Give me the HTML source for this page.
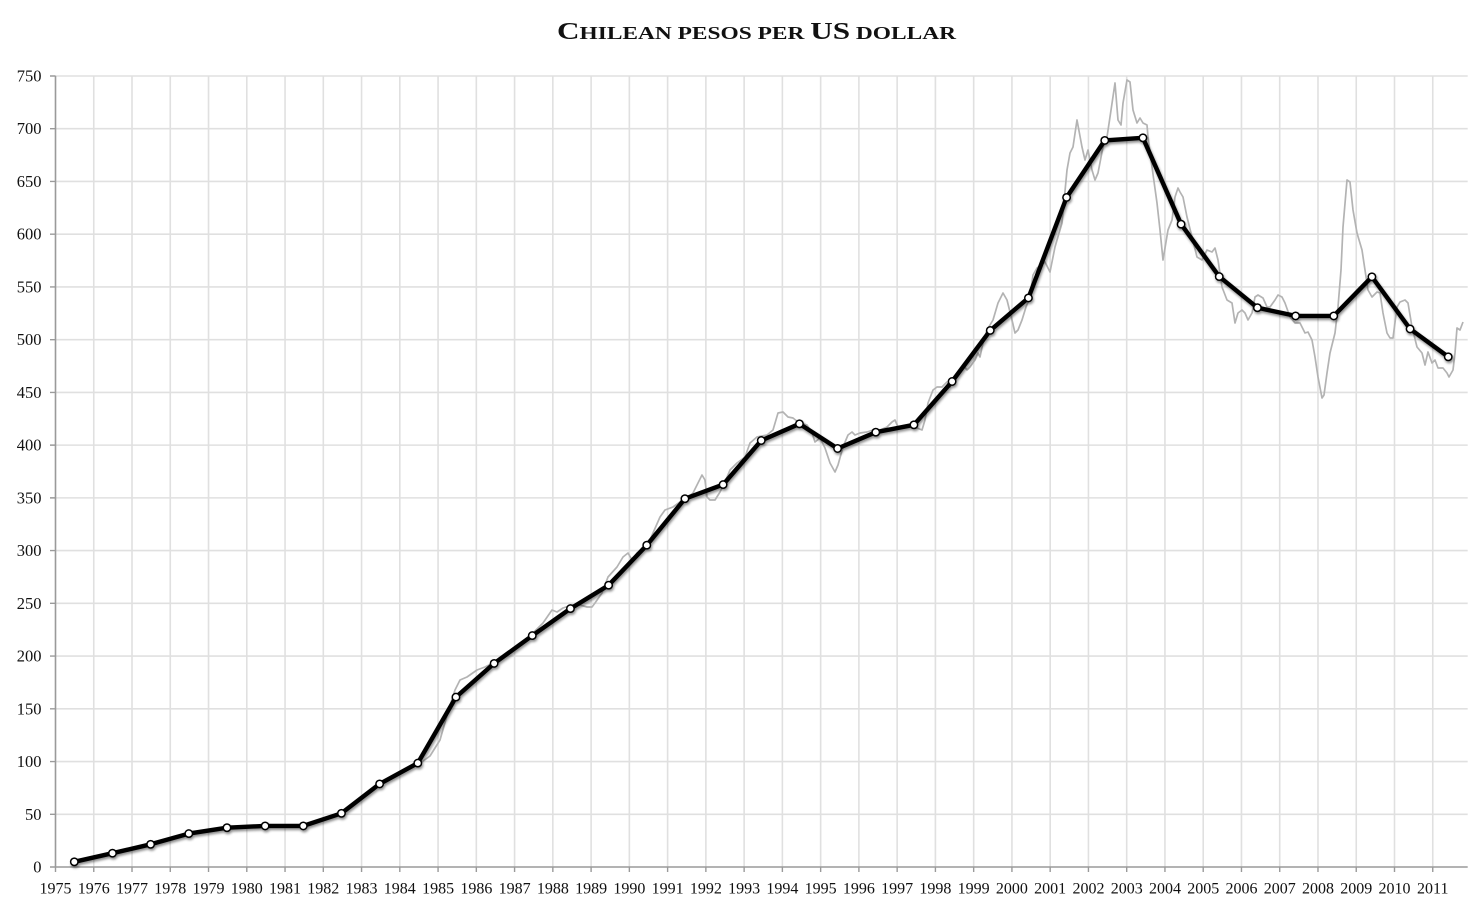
<!DOCTYPE html>
<html>
<head>
<meta charset="utf-8">
<style>
html,body{margin:0;padding:0;background:#fff;}
svg{display:block;}
text{font-family:"Liberation Serif","Times New Roman",serif;fill:#111;}
</style>
</head>
<body>
<svg width="1484" height="917" viewBox="0 0 1484 917" xmlns="http://www.w3.org/2000/svg">
<defs>
<filter id="sh" x="-5%" y="-5%" width="110%" height="110%">
<feDropShadow dx="1" dy="2" stdDeviation="1.3" flood-color="#000" flood-opacity="0.45"/>
</filter>
</defs>
<rect width="1484" height="917" fill="#fff"/>

<!-- Title -->
<text x="756.5" y="39" text-anchor="middle" font-weight="bold" textLength="399" lengthAdjust="spacingAndGlyphs"><tspan font-size="24">C</tspan><tspan font-size="18">HILEAN PESOS PER </tspan><tspan font-size="24">US</tspan><tspan font-size="18"> DOLLAR</tspan></text>

<!-- horizontal gridlines -->
<path stroke="#e0e0e0" stroke-width="1.6" fill="none" d="
M55.5 814.27H1467.7 M55.5 761.53H1467.7 M55.5 708.8H1467.7 M55.5 656.07H1467.7 M55.5 603.33H1467.7
M55.5 550.6H1467.7 M55.5 497.87H1467.7 M55.5 445.13H1467.7 M55.5 392.4H1467.7 M55.5 339.67H1467.7
M55.5 286.93H1467.7 M55.5 234.2H1467.7 M55.5 181.47H1467.7 M55.5 128.73H1467.7 M55.5 76H1467.7"/>
<!-- vertical gridlines -->
<path stroke="#e0e0e0" stroke-width="1.6" fill="none" d="
M93.76 76V867 M132.01 76V867 M170.27 76V867 M208.53 76V867 M246.79 76V867 M285.04 76V867
M323.3 76V867 M361.56 76V867 M399.81 76V867 M438.07 76V867 M476.33 76V867 M514.58 76V867
M552.84 76V867 M591.1 76V867 M629.36 76V867 M667.61 76V867 M705.87 76V867 M744.13 76V867
M782.38 76V867 M820.64 76V867 M858.9 76V867 M897.15 76V867 M935.41 76V867 M973.67 76V867
M1011.93 76V867 M1050.18 76V867 M1088.44 76V867 M1126.7 76V867 M1164.95 76V867 M1203.21 76V867
M1241.47 76V867 M1279.72 76V867 M1317.98 76V867 M1356.24 76V867 M1394.5 76V867 M1432.75 76V867"/>

<!-- axes -->
<path stroke="#9a9a9a" stroke-width="1.6" fill="none" d="M55.5 76V867.5 M55 867H1467.7"/>
<!-- y ticks -->
<path stroke="#9a9a9a" stroke-width="1.4" fill="none" d="
M50 867H55.5 M50 814.27H55.5 M50 761.53H55.5 M50 708.8H55.5 M50 656.07H55.5 M50 603.33H55.5
M50 550.6H55.5 M50 497.87H55.5 M50 445.13H55.5 M50 392.4H55.5 M50 339.67H55.5
M50 286.93H55.5 M50 234.2H55.5 M50 181.47H55.5 M50 128.73H55.5 M50 76H55.5"/>
<!-- x ticks -->
<path stroke="#9a9a9a" stroke-width="1.4" fill="none" d="
M55.5 867V872 M93.76 867V872 M132.01 867V872 M170.27 867V872 M208.53 867V872 M246.79 867V872 M285.04 867V872
M323.3 867V872 M361.56 867V872 M399.81 867V872 M438.07 867V872 M476.33 867V872 M514.58 867V872
M552.84 867V872 M591.1 867V872 M629.36 867V872 M667.61 867V872 M705.87 867V872 M744.13 867V872
M782.38 867V872 M820.64 867V872 M858.9 867V872 M897.15 867V872 M935.41 867V872 M973.67 867V872
M1011.93 867V872 M1050.18 867V872 M1088.44 867V872 M1126.7 867V872 M1164.95 867V872 M1203.21 867V872
M1241.47 867V872 M1279.72 867V872 M1317.98 867V872 M1356.24 867V872 M1394.5 867V872 M1432.75 867V872"/>

<!-- y labels -->
<g font-size="16.5" text-anchor="end">
<text x="41.5" y="872.5">0</text>
<text x="41.5" y="819.8">50</text>
<text x="41.5" y="767">100</text>
<text x="41.5" y="714.3">150</text>
<text x="41.5" y="661.6">200</text>
<text x="41.5" y="608.8">250</text>
<text x="41.5" y="556.1">300</text>
<text x="41.5" y="503.4">350</text>
<text x="41.5" y="450.6">400</text>
<text x="41.5" y="397.9">450</text>
<text x="41.5" y="345.2">500</text>
<text x="41.5" y="292.4">550</text>
<text x="41.5" y="239.7">600</text>
<text x="41.5" y="187">650</text>
<text x="41.5" y="134.2">700</text>
<text x="41.5" y="81.5">750</text>
</g>

<!-- x labels -->
<g font-size="16" text-anchor="middle">
<text x="55.5" y="893.5">1975</text>
<text x="93.76" y="893.5">1976</text>
<text x="132.01" y="893.5">1977</text>
<text x="170.27" y="893.5">1978</text>
<text x="208.53" y="893.5">1979</text>
<text x="246.79" y="893.5">1980</text>
<text x="285.04" y="893.5">1981</text>
<text x="323.3" y="893.5">1982</text>
<text x="361.56" y="893.5">1983</text>
<text x="399.81" y="893.5">1984</text>
<text x="438.07" y="893.5">1985</text>
<text x="476.33" y="893.5">1986</text>
<text x="514.58" y="893.5">1987</text>
<text x="552.84" y="893.5">1988</text>
<text x="591.1" y="893.5">1989</text>
<text x="629.36" y="893.5">1990</text>
<text x="667.61" y="893.5">1991</text>
<text x="705.87" y="893.5">1992</text>
<text x="744.13" y="893.5">1993</text>
<text x="782.38" y="893.5">1994</text>
<text x="820.64" y="893.5">1995</text>
<text x="858.9" y="893.5">1996</text>
<text x="897.15" y="893.5">1997</text>
<text x="935.41" y="893.5">1998</text>
<text x="973.67" y="893.5">1999</text>
<text x="1011.93" y="893.5">2000</text>
<text x="1050.18" y="893.5">2001</text>
<text x="1088.44" y="893.5">2002</text>
<text x="1126.7" y="893.5">2003</text>
<text x="1164.95" y="893.5">2004</text>
<text x="1203.21" y="893.5">2005</text>
<text x="1241.47" y="893.5">2006</text>
<text x="1279.72" y="893.5">2007</text>
<text x="1317.98" y="893.5">2008</text>
<text x="1356.24" y="893.5">2009</text>
<text x="1394.5" y="893.5">2010</text>
<text x="1432.75" y="893.5">2011</text>
</g>

<!-- monthly grey series -->
<polyline fill="none" stroke="#b3b3b3" stroke-width="1.7" stroke-linejoin="round" points="
74.3,861.8 112.5,853.2 150.6,844.3 188.8,833.6 227,827.7 265.1,825.9 303.3,825.9 341.5,813.3 379.6,783.9 410,768 417.8,765
430,756 440,740 448,712 455,690 460,680 467,677 477,670 485,667 493,663 505,655 518,645 530,636 543,623
552,610 557,612 563,608 572,605 580,605 587,607 592,607 595,603 602,593 608,577 617,567 623,557 628,553
632,560 637,553 647,547 653,533 660,517 665,510 673,507 680,502 687,498 693,493 698,483 702,475 705,480
707,497 710,500 715,500 720,492 725,482 730,470 737,463 745,457 750,443 757,437 767,435 773,430 778,413
783,412 788,417 793,418 798,422 807,425 812,433 815,442 820,438 825,448 830,463 835,472 838,465 843,447
848,435 852,432 855,435 860,433 867,432 873,430 880,430 887,427 892,422 895,420 898,427 903,427 910,425
917,428 922,430 925,420 928,403 933,390 937,387 942,387 947,382 950,387 955,377 960,373 963,365 967,370
970,367 975,360 978,353 980,357 983,343 987,330 993,320 998,303 1003,293 1007,300 1012,320 1015,333
1018,330 1022,320 1026,307 1030,297 1033,275 1037,268 1045,262 1050,272 1055,247 1062,223 1067,170
1070,153 1073,147 1077,120 1082,147 1085,160 1088,150 1092,170 1095,180 1098,173 1103,147 1107,137
1110,117 1115,83 1118,120 1121,125 1123,103 1127,80 1130,82 1133,110 1137,123 1140,118 1143,123 1147,125
1148,137 1152,167 1157,203 1160,230 1163,260 1168,230 1172,220 1175,197 1178,188 1180,192 1183,197
1187,217 1192,237 1197,257 1202,260 1207,250 1212,252 1215,248 1218,260 1222,287 1227,300 1232,303
1235,323 1238,313 1242,310 1245,313 1248,320 1252,313 1255,297 1258,295 1263,298 1267,307 1270,307
1275,300 1278,295 1282,297 1285,303 1290,317 1295,323 1300,323 1305,333 1308,332 1312,340 1315,357
1318,377 1322,398 1324,395 1327,373 1330,353 1335,333 1338,307 1341,270 1343,227 1347,180 1350,182
1353,210 1357,233 1362,250 1365,270 1368,290 1372,297 1377,292 1380,293 1383,313 1387,333 1390,338
1393,338 1397,307 1400,302 1405,300 1408,303 1412,327 1417,347 1422,353 1425,365 1428,352 1432,363
1435,360 1438,368 1443,368 1447,373 1449,377 1453,370 1455,353 1457,328 1460,330 1463,322"/>

<!-- annual black series -->
<g filter="url(#sh)">
<polyline fill="none" stroke="#000" stroke-width="4.4" stroke-linejoin="round" points="
74.3,861.8 112.47,853.2 150.63,844.3 188.8,833.6 226.96,827.7 265.13,825.9 303.29,825.9 341.46,813.3
379.62,783.9 417.79,763.1 455.95,697.1 494.12,663.4 532.28,635.6 570.45,608.6 608.61,585.2 646.78,545.2
684.94,498.7 723.11,484.6 761.27,440.5 799.44,423.8 837.6,448.5 875.77,432.2 913.93,424.8 952.1,381.5
990.26,330.4 1028.43,297.9 1066.59,197.4 1104.76,140.4 1142.92,137.8 1181.09,224.2 1219.25,276.6
1257.42,307.7 1295.58,315.9 1333.75,315.9 1371.91,276.8 1410.08,328.9 1448.24,356.8"/>
<g fill="#fff" stroke="#000" stroke-width="1.5">
<circle cx="74.3" cy="861.8" r="3.7"/>
<circle cx="112.47" cy="853.2" r="3.7"/>
<circle cx="150.63" cy="844.3" r="3.7"/>
<circle cx="188.8" cy="833.6" r="3.7"/>
<circle cx="226.96" cy="827.7" r="3.7"/>
<circle cx="265.13" cy="825.9" r="3.7"/>
<circle cx="303.29" cy="825.9" r="3.7"/>
<circle cx="341.46" cy="813.3" r="3.7"/>
<circle cx="379.62" cy="783.9" r="3.7"/>
<circle cx="417.79" cy="763.1" r="3.7"/>
<circle cx="455.95" cy="697.1" r="3.7"/>
<circle cx="494.12" cy="663.4" r="3.7"/>
<circle cx="532.28" cy="635.6" r="3.7"/>
<circle cx="570.45" cy="608.6" r="3.7"/>
<circle cx="608.61" cy="585.2" r="3.7"/>
<circle cx="646.78" cy="545.2" r="3.7"/>
<circle cx="684.94" cy="498.7" r="3.7"/>
<circle cx="723.11" cy="484.6" r="3.7"/>
<circle cx="761.27" cy="440.5" r="3.7"/>
<circle cx="799.44" cy="423.8" r="3.7"/>
<circle cx="837.6" cy="448.5" r="3.7"/>
<circle cx="875.77" cy="432.2" r="3.7"/>
<circle cx="913.93" cy="424.8" r="3.7"/>
<circle cx="952.1" cy="381.5" r="3.7"/>
<circle cx="990.26" cy="330.4" r="3.7"/>
<circle cx="1028.43" cy="297.9" r="3.7"/>
<circle cx="1066.59" cy="197.4" r="3.7"/>
<circle cx="1104.76" cy="140.4" r="3.7"/>
<circle cx="1142.92" cy="137.8" r="3.7"/>
<circle cx="1181.09" cy="224.2" r="3.7"/>
<circle cx="1219.25" cy="276.6" r="3.7"/>
<circle cx="1257.42" cy="307.7" r="3.7"/>
<circle cx="1295.58" cy="315.9" r="3.7"/>
<circle cx="1333.75" cy="315.9" r="3.7"/>
<circle cx="1371.91" cy="276.8" r="3.7"/>
<circle cx="1410.08" cy="328.9" r="3.7"/>
<circle cx="1448.24" cy="356.8" r="3.7"/>
</g>
</g>
</svg>
</body>
</html>
